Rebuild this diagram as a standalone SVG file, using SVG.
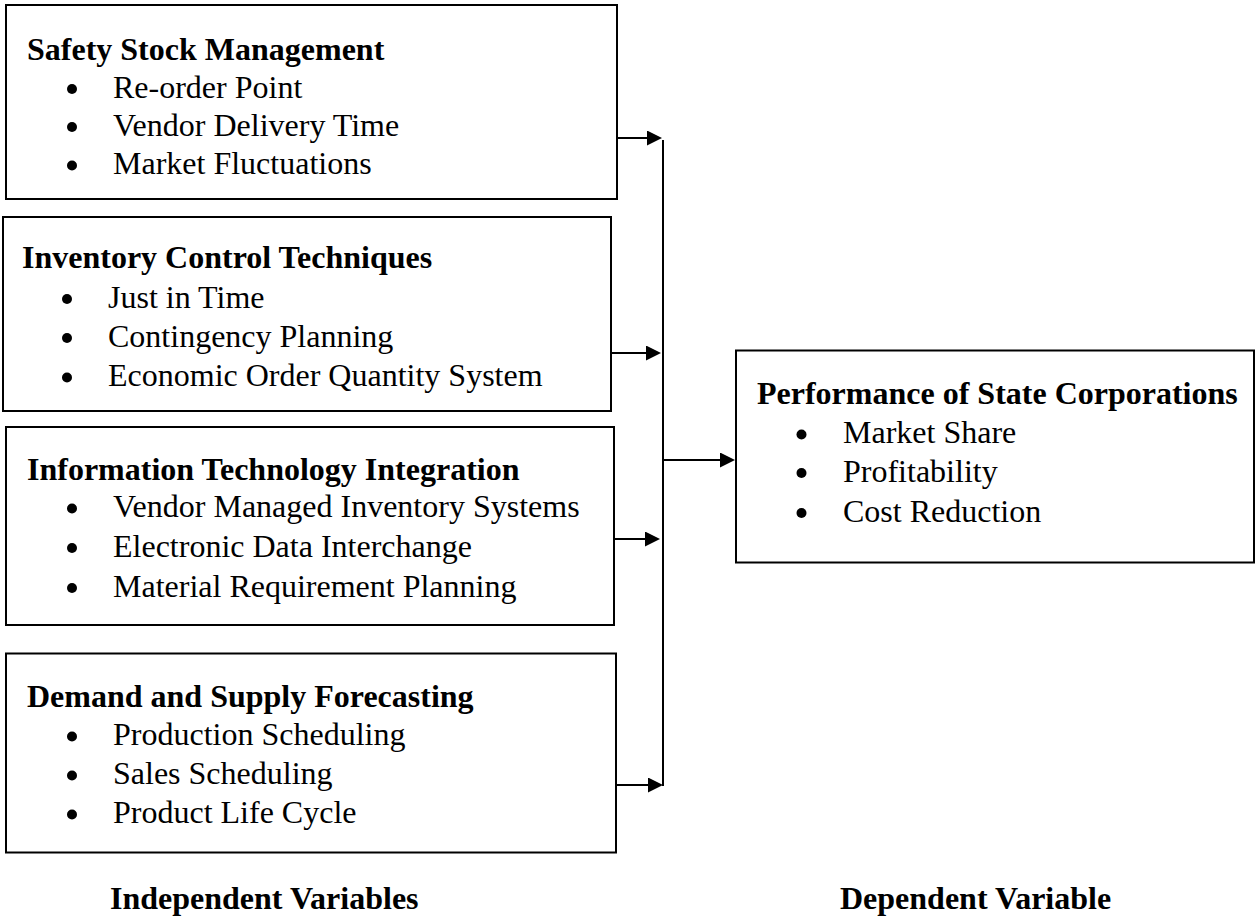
<svg xmlns="http://www.w3.org/2000/svg" width="1257" height="919" viewBox="0 0 1257 919">
<defs>
<style>
.box{fill:#fff;stroke:#000;stroke-width:2}
.t{font-family:"Liberation Serif","Times New Roman",serif;font-size:32px;fill:#000}
.b{font-weight:bold}
.conn{stroke:#000;stroke-width:2;fill:none}
.dot{fill:#000}
</style>
<marker id="ah" viewBox="0 0 15 15" refX="5" refY="7.5" markerWidth="15" markerHeight="15" markerUnits="userSpaceOnUse" orient="auto">
<path d="M0,0 L15,7.5 L0,15 z" fill="#000"/>
</marker>
</defs>
<rect width="1257" height="919" fill="#fff"/>

<g id="safety-stock">
<rect class="box" x="6" y="5" width="611" height="194"/>
<text class="t b" x="27" y="60">Safety Stock Management</text>
<circle class="dot" cx="72" cy="89" r="5"/><text class="t" x="113" y="97.5">Re-order Point</text>
<circle class="dot" cx="72" cy="127" r="5"/><text class="t" x="113" y="135.5">Vendor Delivery Time</text>
<circle class="dot" cx="72" cy="165.5" r="5"/><text class="t" x="113" y="174">Market Fluctuations</text>
</g>

<g id="inventory-control">
<rect class="box" x="3" y="217" width="608" height="194"/>
<text class="t b" x="22" y="268">Inventory Control Techniques</text>
<circle class="dot" cx="67" cy="299" r="5"/><text class="t" x="108" y="307.5">Just in Time</text>
<circle class="dot" cx="67" cy="338" r="5"/><text class="t" x="108" y="346.5">Contingency Planning</text>
<circle class="dot" cx="67" cy="377.5" r="5"/><text class="t" x="108" y="386">Economic Order Quantity System</text>
</g>

<g id="it-integration">
<rect class="box" x="6" y="427" width="608" height="198"/>
<text class="t b" x="27" y="480">Information Technology Integration</text>
<circle class="dot" cx="72" cy="508.5" r="5"/><text class="t" x="113" y="517">Vendor Managed Inventory Systems</text>
<circle class="dot" cx="72" cy="548" r="5"/><text class="t" x="113" y="556.5">Electronic Data Interchange</text>
<circle class="dot" cx="72" cy="588" r="5"/><text class="t" x="113" y="596.5">Material Requirement Planning</text>
</g>

<g id="demand-supply">
<rect class="box" x="6" y="653.5" width="610" height="199"/>
<text class="t b" x="27" y="707">Demand and Supply Forecasting</text>
<circle class="dot" cx="72" cy="736.5" r="5"/><text class="t" x="113" y="745">Production Scheduling</text>
<circle class="dot" cx="72" cy="775.5" r="5"/><text class="t" x="113" y="784">Sales Scheduling</text>
<circle class="dot" cx="72" cy="814.5" r="5"/><text class="t" x="113" y="823">Product Life Cycle</text>
</g>

<g id="performance">
<rect class="box" x="736" y="350.5" width="518" height="212"/>
<text class="t b" x="757" y="404">Performance of State Corporations</text>
<circle class="dot" cx="801.5" cy="434.5" r="5"/><text class="t" x="843" y="443">Market Share</text>
<circle class="dot" cx="801.5" cy="473" r="5"/><text class="t" x="843" y="481.5">Profitability</text>
<circle class="dot" cx="801.5" cy="513" r="5"/><text class="t" x="843" y="521.5">Cost Reduction</text>
</g>

<g id="labels">
<text class="t b" x="110" y="909">Independent Variables</text>
<text class="t b" x="840" y="909">Dependent Variable</text>
</g>

<g id="connectors">
<line class="conn" x1="617" y1="138" x2="652" y2="138" marker-end="url(#ah)"/>
<line class="conn" x1="611" y1="353" x2="651" y2="353" marker-end="url(#ah)"/>
<line class="conn" x1="614" y1="539" x2="650" y2="539" marker-end="url(#ah)"/>
<line class="conn" x1="616" y1="785" x2="653" y2="785" marker-end="url(#ah)"/>
<line class="conn" x1="663" y1="140" x2="663" y2="786"/>
<line class="conn" x1="662" y1="460" x2="725" y2="460" marker-end="url(#ah)"/>
</g>
</svg>
